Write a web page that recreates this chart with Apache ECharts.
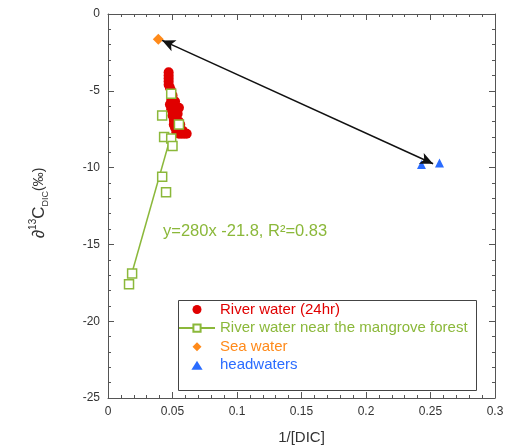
<!DOCTYPE html>
<html><head><meta charset="utf-8">
<script src="https://cdn.jsdelivr.net/npm/echarts@6/dist/echarts.min.js"></script>
<style>html,body{margin:0;padding:0;background:#fff}#c{width:512px;height:447px}</style>
</head><body><div id="c"></div>
<script>
var riverWater24 = [
 [0.047,-3.8],[0.047,-4.0],[0.047,-4.2],[0.047,-4.4],[0.047,-4.6],[0.048,-4.8],[0.049,-5.0],[0.050,-5.3],
 [0.049,-5.6],[0.050,-5.8],[0.051,-6.0],[0.052,-6.2],[0.053,-6.3],[0.054,-6.5],[0.050,-6.6],[0.051,-6.9],
 [0.053,-7.0],[0.055,-7.0],[0.056,-7.2],[0.052,-7.4],[0.054,-7.5],[0.053,-7.7],[0.055,-7.8],[0.057,-7.8],
 [0.059,-7.8],[0.061,-7.8],[0.048,-5.9],[0.052,-5.7],[0.055,-6.1],[0.049,-6.2],[0.051,-7.2],[0.058,-7.6]
];
var mangroveWater = [
 [0.0163,-17.6],[0.0187,-16.9],[0.042,-10.6],[0.045,-11.6],[0.042,-6.6],[0.0435,-8.0],
 [0.049,-8.1],[0.050,-8.6],[0.049,-5.2],[0.055,-7.2]
];
var mangroveFitLine = [[0.0186,-16.85],[0.0475,-8.3]];
var seaWater = [[0.039,-1.65]];
var headwaters = [[0.243,-9.8],[0.257,-9.7]];
var mixingArrow = [[0.252,-9.75],[0.042,-1.72]];
var fitText = 'y=280x -21.8, R\u00B2=0.83';

var RED='#e00000', GREEN='#8bb83a', ORANGE='#ff8a1a', BLUE='#2a6cff';
var NAMES=['River water (24hr)','River water near the mangrove forest','Sea water','headwaters'];

var chart = echarts.init(document.getElementById('c'), null, {renderer:'canvas'});
function xa(pos, show){return {type:'value',position:pos,min:0,max:0.3,interval:0.05,
  axisLine:{show:true,onZero:false,lineStyle:{color:'#555'}},
  axisTick:{show:true,inside:true,length:6,lineStyle:{color:'#555'}},
  minorTick:{show:true,splitNumber:5,length:3,lineStyle:{color:'#555'}},
  splitLine:{show:false},
  axisLabel:{show:show,color:'#333',fontSize:12,fontFamily:'Liberation Sans',margin:8},
  name: show?'1/[DIC]':'', nameLocation:'middle', nameGap:32,
  nameTextStyle:{color:'#333',fontSize:15,fontFamily:'Liberation Sans'}};}
function ya(pos, show){return {type:'value',position:pos,min:-25,max:0,interval:5,
  axisLine:{show:true,onZero:false,lineStyle:{color:'#555'}},
  axisTick:{show:true,inside:true,length:6,lineStyle:{color:'#555'}},
  minorTick:{show:true,splitNumber:5,length:3,lineStyle:{color:'#555'}},
  splitLine:{show:false},
  axisLabel:{show:show,color:'#333',fontSize:12,fontFamily:'Liberation Sans',margin:8}};}

chart.setOption({
  animation:false,
  grid:{left:108,right:17,top:14,bottom:49,containLabel:false,outerBoundsMode:'none'},
  xAxis:[xa('bottom',true), xa('top',false)],
  yAxis:[ya('left',true), ya('right',false)],
  legend:{
    orient:'vertical', left:178, top:302, itemWidth:36, itemHeight:9, itemGap:3.6,
    padding:0,
    textStyle:{fontSize:15,fontFamily:'Liberation Sans'},
    data:[
      {name:NAMES[0],textStyle:{color:RED}},
      {name:NAMES[1],textStyle:{color:GREEN}},
      {name:NAMES[2],textStyle:{color:ORANGE},icon:'path://M5,0 L10,5 L5,10 L0,5 Z'},
      {name:NAMES[3],textStyle:{color:BLUE},icon:'path://M5,1 L10,9 L0,9 Z'}
    ]
  },
  graphic:[
    {type:'rect',left:176,top:298,shape:{width:298,height:90},style:{fill:'none',stroke:'#444',lineWidth:1},z:-1},
    {type:'text',left:163,top:223,style:{text:fitText,fill:GREEN,font:'16.5px "Liberation Sans"'}},
    {type:'text',x:38,y:203,rotation:Math.PI/2,
     style:{text:'{a|\u2202}{s|13}{a|C}{b|DIC}{p|(\u2030)}',align:'center',verticalAlign:'middle',
       rich:{a:{fontSize:17,fontFamily:'Liberation Sans',fill:'#333',verticalAlign:'bottom',lineHeight:20},
             s:{fontSize:10,fontFamily:'Liberation Sans',fill:'#333',verticalAlign:'top',lineHeight:20},
             b:{fontSize:9,fontFamily:'Liberation Sans',fill:'#333',verticalAlign:'bottom',lineHeight:20,padding:[0,0,-2,0]},
             p:{fontSize:14,fontFamily:'Liberation Sans',fill:'#333',verticalAlign:'bottom',lineHeight:20,padding:[0,0,2,0]}}}}
  ],
  series:[
    {name:NAMES[0],type:'scatter',data:riverWater24,symbol:'circle',symbolSize:10,itemStyle:{color:RED,opacity:1},z:2},
    {name:NAMES[1],type:'line',data:mangroveFitLine,showSymbol:false,symbol:'emptyRect',symbolSize:9,
      lineStyle:{color:GREEN,width:1.5},itemStyle:{color:GREEN,borderColor:GREEN,borderWidth:1.5},z:3},
    {name:NAMES[1],type:'scatter',data:mangroveWater,symbol:'rect',symbolSize:9,
      itemStyle:{color:'#fff',borderColor:GREEN,borderWidth:1.5,opacity:1},z:4},
    {name:NAMES[2],type:'scatter',data:seaWater,symbol:'diamond',symbolSize:11,itemStyle:{color:ORANGE,opacity:1},z:4},
    {name:NAMES[3],type:'scatter',data:headwaters,symbol:'triangle',symbolSize:9,itemStyle:{color:BLUE,opacity:1},z:4},
    {name:'arrow',type:'line',data:[],z:5,
      markLine:{silent:true,symbol:['arrow','arrow'],symbolSize:[9,13],label:{show:false},
        lineStyle:{color:'#111',width:1.5,type:'solid'},
        data:[[{coord:mixingArrow[0]},{coord:mixingArrow[1]}]]}}
  ]
});
</script></body></html>
